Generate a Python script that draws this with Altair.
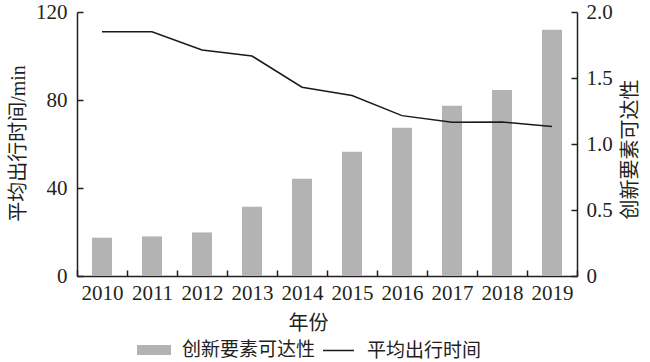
import altair as alt
import pandas as pd

years = ["2010", "2011", "2012", "2013", "2014", "2015", "2016", "2017", "2018", "2019"]
accessibility = [0.29, 0.30, 0.33, 0.525, 0.737, 0.942, 1.124, 1.29, 1.41, 1.866]
travel_time = [111.0, 111.0, 102.7, 100.0, 85.8, 82.0, 72.9, 69.9, 70.0, 67.9]
left_ticks = [0, 40, 80, 120]
right_ticks = [0, 0.5, 1.0, 1.5, 2.0]
series_names = ["创新要素可达性", "平均出行时间"]

df = pd.DataFrame({
    "year": years,
    "access": accessibility,
    "travel": travel_time,
    "s_bar": [series_names[0]] * len(years),
    "s_line": [series_names[1]] * len(years),
})

FONT = "'Liberation Serif', 'Noto Sans CJK SC'"
TXT = "#231f20"

x = alt.X(
    "year:N",
    title="年份",
    scale=alt.Scale(paddingInner=0, paddingOuter=0),
    axis=alt.Axis(
        labelAngle=0,
        tickBand="extent",
        tickSize={"expr": "-6"},
        labelPadding=12,
        titleX=231,
        titleY=47,
        titleAlign="center",
        titleBaseline="middle",
    ),
)

bars = alt.Chart(df).mark_bar(size=20).encode(
    x=x,
    y=alt.Y(
        "access:Q",
        scale=alt.Scale(domain=[0, 2]),
        axis=alt.Axis(
            orient="right",
            title="创新要素可达性",
            values=right_ticks,
            labelExpr="datum.value == 0 ? '0' : format(datum.value, '.1f')",
            tickSize={"expr": "-6"},
            labelPadding=15,
            titleAngle=270,
            titleX=53,
            titleY=137,
            titleAlign="center",
            titleBaseline="middle",
        ),
    ),
    fill=alt.Fill(
        "s_bar:N",
        scale=alt.Scale(range=["#b3b3b3"]),
        legend=alt.Legend(
            title=None,
            orient="none",
            legendX=60,
            legendY=321,
            symbolType="M-1,-0.3H1V0.3H-1Z",
            symbolSize=1156,
            symbolStrokeWidth=0,
            labelOffset=11,
        ),
    ),
)

line = alt.Chart(df).mark_line(color="#1a1a1a", strokeWidth=1.5).encode(
    x=x,
    y=alt.Y(
        "travel:Q",
        scale=alt.Scale(domain=[0, 120]),
        axis=alt.Axis(
            orient="left",
            title="平均出行时间/min",
            values=left_ticks,
            tickSize={"expr": "-6"},
            labelPadding=16,
            titleAngle=270,
            titleX=-59,
            titleY=131,
            titleAlign="center",
            titleBaseline="middle",
        ),
    ),
    stroke=alt.Stroke(
        "s_line:N",
        scale=alt.Scale(range=["#1a1a1a"]),
        legend=alt.Legend(
            title=None,
            orient="none",
            legendX=245,
            legendY=322,
            symbolType="stroke",
            symbolSize=961,
            symbolStrokeWidth=1.5,
            labelOffset=12,
        ),
    ),
)

chart = (
    alt.layer(bars, line)
    .resolve_scale(y="independent", fill="independent", stroke="independent")
    .properties(
        width=500,
        height=264,
        autosize=alt.AutoSizeParams(type="none"),
        padding={"left": 77, "top": 12, "right": 73, "bottom": 86},
    )
    .configure_view(stroke=None)
    .configure_axis(
        labelFont=FONT,
        titleFont=FONT,
        labelFontSize=21,
        titleFontSize=20,
        labelColor=TXT,
        titleColor=TXT,
        titleFontWeight="normal",
        domainColor="#231f20",
        tickColor="#231f20",
        domainWidth=1.5,
        tickWidth=1.5,
        grid=False,
    )
    .configure_legend(
        labelFont=FONT,
        labelFontSize=19,
        labelColor=TXT,
        padding=0,
    )
)

chart.save("out.html", embed_options={"renderer": "svg", "actions": False})
